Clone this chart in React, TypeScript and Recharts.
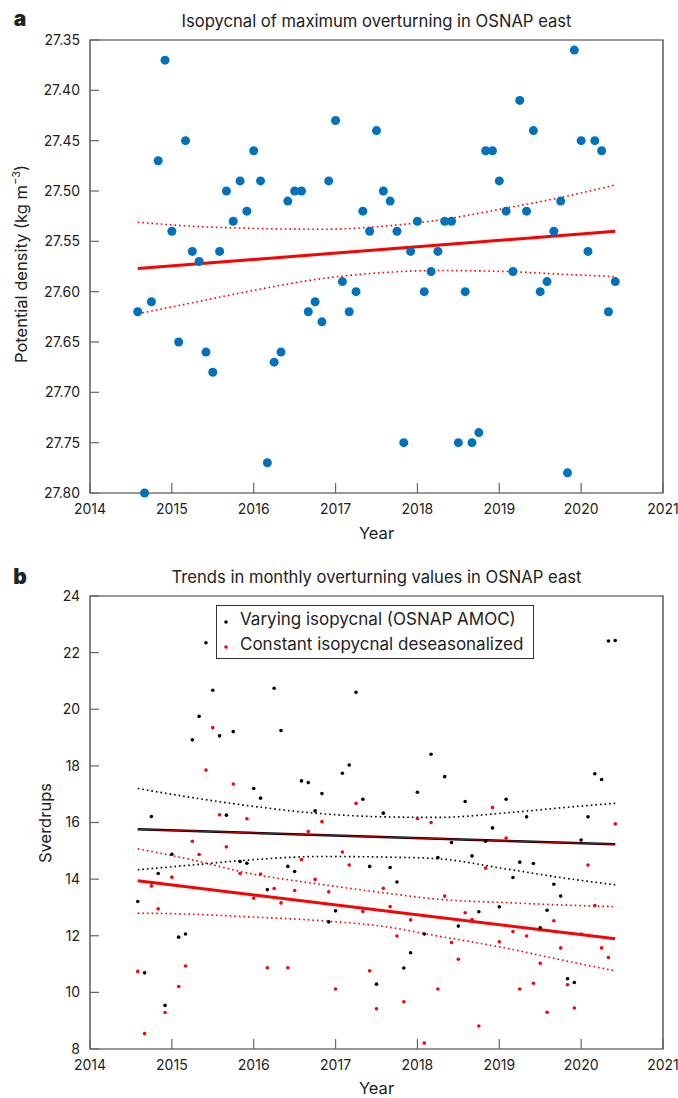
import React from "react";
import { ComposedChart, Line, ReferenceArea, Scatter, XAxis, YAxis } from "recharts";

const FONT = "Inter, 'Noto Sans', sans-serif";
const TEXT = "#222";
const FRAME = "#333";
const TICK = "#666";
const BLUE = "#0072BD";
const RED = "#FF0000";

const PLOT_LEFT = 90;

// monthly values, Aug 2014 .. Jun 2020
const START_YEAR = 2014 + 7 / 12;
const N_MONTHS = 71;
const months = Array.from({ length: N_MONTHS }, (_, k) => START_YEAR + k / 12);

const yearTicks = [2014, 2015, 2016, 2017, 2018, 2019, 2020, 2021];
const densityTicks = [27.35, 27.4, 27.45, 27.5, 27.55, 27.6, 27.65, 27.7, 27.75, 27.8];
const sverdrupTicks = [8, 10, 12, 14, 16, 18, 20, 22, 24];

// panel a: isopycnal of maximum overturning (kg m-3)
const density = [
  27.62, 27.8, 27.61, 27.47, 27.37, 27.54, 27.65, 27.45, 27.56, 27.57,
  27.66, 27.68, 27.56, 27.5, 27.53, 27.49, 27.52, 27.46, 27.49, 27.77,
  27.67, 27.66, 27.51, 27.5, 27.5, 27.62, 27.61, 27.63, 27.49, 27.43,
  27.59, 27.62, 27.6, 27.52, 27.54, 27.44, 27.5, 27.51, 27.54, 27.75,
  27.56, 27.53, 27.6, 27.58, 27.56, 27.53, 27.53, 27.75, 27.6, 27.75,
  27.74, 27.46, 27.46, 27.49, 27.52, 27.58, 27.41, 27.52, 27.44, 27.6,
  27.59, 27.54, 27.51, 27.78, 27.36, 27.45, 27.56, 27.45, 27.46, 27.62, 27.59,
];

// panel b: overturning (Sv)
const varyingAmoc = [
  13.21, 10.69, 16.21, 14.2, 9.54, 14.88, 11.95, 12.06, 18.92, 19.75,
  22.35, 20.67, 19.06, 16.26, 19.21, 14.62, 14.56, 17.2, 16.86, 13.63,
  20.74, 19.25, 14.45, 14.27, 17.47, 17.41, 16.41, 17.02, 12.49, 12.88,
  17.74, 18.03, 20.6, 16.82, 14.45, 10.29, 16.33, 14.41, 13.9, 10.86,
  11.4, 17.07, 12.06, 18.41, 14.76, 17.62, 15.29, 12.34, 16.74, 14.82,
  12.85, 15.34, 15.81, 13.02, 16.82, 14.06, 14.6, 16.2, 14.55, 12.28,
  12.9, 13.82, 13.4, 10.48, 10.35, 15.38, 16.2, 17.72, 17.52, 22.41, 22.43,
];
const constantDeseason = [
  10.74, 8.55, 13.76, 12.95, 9.29, 14.07, 10.21, 10.93, 15.34, 14.87,
  17.85, 19.35, 16.27, 15.14, 17.36, 14.2, 16.13, 13.33, 14.18, 10.87,
  13.67, 13.16, 10.87, 13.6, 14.69, 15.68, 13.99, 16.03, 13.55, 10.12,
  14.96, 14.5, 16.68, 12.86, 10.76, 9.42, 13.68, 13.03, 11.99, 9.67,
  12.56, 16.14, 8.21, 16.0, 10.12, 13.4, 11.76, 11.17, 12.81, 12.57,
  8.81, 14.39, 16.53, 11.79, 15.45, 12.15, 10.12, 11.99, 10.32, 11.03,
  9.3, 12.53, 11.57, 10.27, 9.45, 12.06, 14.5, 13.07, 11.57, 11.23, 15.95,
];

// trend lines (first and last month) and confidence bands read at these months
const bandKnots = [0, 8, 16, 27, 36, 44, 54, 63, 70];
const densityFit = [27.577, 27.54];
const densityUpper = [27.531, 27.535, 27.537, 27.538, 27.535, 27.529, 27.517, 27.505, 27.494];
const densityLower = [27.622, 27.611, 27.6, 27.587, 27.581, 27.579, 27.58, 27.583, 27.585];
const varyingFit = [15.76, 15.23];
const varyingUpper = [17.2, 16.88, 16.6, 16.31, 16.2, 16.18, 16.34, 16.54, 16.68];
const varyingLower = [14.33, 14.5, 14.67, 14.8, 14.78, 14.72, 14.36, 14.02, 13.8];
const constantFit = [13.94, 11.89];
const constantUpper = [15.07, 14.68, 14.22, 13.81, 13.52, 13.29, 13.17, 13.08, 13.03];
const constantLower = [12.8, 12.76, 12.67, 12.53, 12.33, 11.99, 11.56, 11.1, 10.76];

const toPoints = (values: number[]) => values.map((v, i) => ({ t: months[i], v }));
const toBand = (values: number[]) => values.map((v, i) => ({ t: months[bandKnots[i]], v }));
const toFit = (ends: number[]) => [
  { t: months[0], v: ends[0] },
  { t: months[N_MONTHS - 1], v: ends[1] },
];

const dot = (r: number, fill: string) => (props: any) =>
  <circle cx={props.cx} cy={props.cy} r={r} fill={fill} />;

const yTick = (fmt: (v: number) => string) => (props: any) => {
  const { y, payload } = props;
  return (
    <g>
      <line x1={PLOT_LEFT} x2={PLOT_LEFT + 9} y1={y} y2={y} stroke={TICK} strokeWidth={1.2} />
      <text x={PLOT_LEFT - 10} y={y} dy="0.35em" textAnchor="end" fontSize={14} fill={TEXT} fontFamily={FONT}>
        {fmt(payload.value)}
      </text>
    </g>
  );
};

const xTick = (bottom: number) => (props: any) => {
  const { x, payload } = props;
  return (
    <g>
      <line x1={x} x2={x} y1={bottom - 10} y2={bottom} stroke={TICK} strokeWidth={1.2} />
      <text x={x} y={bottom + 21} textAnchor="middle" fontSize={14} fill={TEXT} fontFamily={FONT}>
        {payload.value}
      </text>
    </g>
  );
};

const Txt: React.FC<{ x: number; y: number; size: number; bold?: boolean; rotate?: boolean; children: React.ReactNode }> = ({
  x, y, size, bold, rotate, children,
}) => (
  <div
    style={{
      position: "absolute",
      left: x,
      top: y,
      transform: `translate(-50%, -50%)${rotate ? " rotate(-90deg)" : ""}`,
      fontSize: size,
      fontWeight: bold ? 900 : 400,
      lineHeight: 1,
      whiteSpace: "nowrap",
    }}
  >
    {children}
  </div>
);

const bandLine = (data: { t: number; v: number }[], color: string) => (
  <Line
    data={data}
    dataKey="v"
    type="monotone"
    stroke={color}
    strokeWidth={1.6}
    strokeDasharray="1.6 3"
    dot={false}
    activeDot={false}
    isAnimationActive={false}
  />
);

export default function App() {
  return (
    <div
      style={{
        position: "absolute",
        left: 0,
        top: 0,
        width: 678,
        height: 1098,
        background: "#fff",
        fontFamily: FONT,
        color: TEXT,
      }}
    >
      <div style={{ position: "absolute", left: 0, top: 0 }}>
        <ComposedChart width={678} height={550} margin={{ top: 40, right: 15, bottom: 0, left: 0 }}>
          <XAxis dataKey="t" type="number" domain={[2014, 2021]} ticks={yearTicks} interval={0}
            axisLine={false} tickLine={false} height={57} tick={xTick(493)} />
          <YAxis dataKey="v" type="number" domain={[27.35, 27.8]} reversed ticks={densityTicks} interval={0}
            axisLine={false} tickLine={false} width={90} tick={yTick((v) => v.toFixed(2))} />
          <ReferenceArea x1={2014} x2={2021} y1={27.35} y2={27.8} fill="none" stroke={FRAME} strokeWidth={1.2} />
          <Scatter data={toPoints(density)} dataKey="v" shape={dot(4.5, BLUE)} isAnimationActive={false} />
          {bandLine(toBand(densityUpper), RED)}
          {bandLine(toBand(densityLower), RED)}
          <Line data={toFit(densityFit)} dataKey="v" type="linear" stroke={RED} strokeWidth={3}
            dot={false} activeDot={false} isAnimationActive={false} />
        </ComposedChart>
      </div>

      <div style={{ position: "absolute", left: 0, top: 550 }}>
        <ComposedChart width={678} height={548} margin={{ top: 46, right: 15, bottom: 0, left: 0 }}>
          <XAxis dataKey="t" type="number" domain={[2014, 2021]} ticks={yearTicks} interval={0}
            axisLine={false} tickLine={false} height={49} tick={xTick(499)} />
          <YAxis dataKey="v" type="number" domain={[8, 24]} ticks={sverdrupTicks} interval={0}
            axisLine={false} tickLine={false} width={90} tick={yTick((v) => String(v))} />
          <ReferenceArea x1={2014} x2={2021} y1={8} y2={24} fill="none" stroke={FRAME} strokeWidth={1.2} />
          <Scatter data={toPoints(varyingAmoc)} dataKey="v" shape={dot(1.8, "#000")} isAnimationActive={false} />
          <Scatter data={toPoints(constantDeseason)} dataKey="v" shape={dot(1.8, RED)} isAnimationActive={false} />
          {bandLine(toBand(varyingUpper), "#000")}
          {bandLine(toBand(varyingLower), "#000")}
          {bandLine(toBand(constantUpper), RED)}
          {bandLine(toBand(constantLower), RED)}
          <Line data={toFit(varyingFit)} dataKey="v" type="linear" stroke="#000" strokeWidth={2.5}
            dot={false} activeDot={false} isAnimationActive={false} />
          <Line data={toFit(varyingFit)} dataKey="v" type="linear" stroke={RED} strokeWidth={0.8}
            dot={false} activeDot={false} isAnimationActive={false} />
          <Line data={toFit(constantFit)} dataKey="v" type="linear" stroke={RED} strokeWidth={3}
            dot={false} activeDot={false} isAnimationActive={false} />
        </ComposedChart>
      </div>

      <Txt x={20} y={17.5} size={21} bold>a</Txt>
      <Txt x={376.5} y={21} size={16.6}>Isopycnal of maximum overturning in OSNAP east</Txt>
      <Txt x={21} y={264} size={16.5} rotate>
        Potential density (kg m<sup style={{ fontSize: 11, lineHeight: 0 }}>−3</sup>)
      </Txt>
      <Txt x={376.5} y={533} size={16.5}>Year</Txt>

      <Txt x={20} y={576} size={21} bold>b</Txt>
      <Txt x={376.5} y={577} size={16.6}>Trends in monthly overturning values in OSNAP east</Txt>
      <Txt x={45} y={822.5} size={16.5} rotate>Sverdrups</Txt>
      <Txt x={376.5} y={1088} size={16.5}>Year</Txt>

      <div
        style={{
          position: "absolute",
          left: 216,
          top: 605,
          width: 316,
          height: 52,
          border: `1px solid ${FRAME}`,
          background: "#fff",
        }}
      >
        {[
          { label: "Varying isopycnal (OSNAP AMOC)", color: "#000", y: 13 },
          { label: "Constant isopycnal deseasonalized", color: RED, y: 38 },
        ].map((item) => (
          <div key={item.label} style={{ position: "absolute", left: 0, top: item.y, height: 0 }}>
            <svg width={12} height={12} style={{ position: "absolute", left: 3, top: -3 }}>
              <circle cx={6} cy={6} r={1.8} fill={item.color} />
            </svg>
            <span
              style={{
                position: "absolute",
                left: 23,
                top: 0,
                transform: "translateY(-50%)",
                fontSize: 17,
                lineHeight: 1,
                whiteSpace: "nowrap",
              }}
            >
              {item.label}
            </span>
          </div>
        ))}
      </div>
    </div>
  );
}
